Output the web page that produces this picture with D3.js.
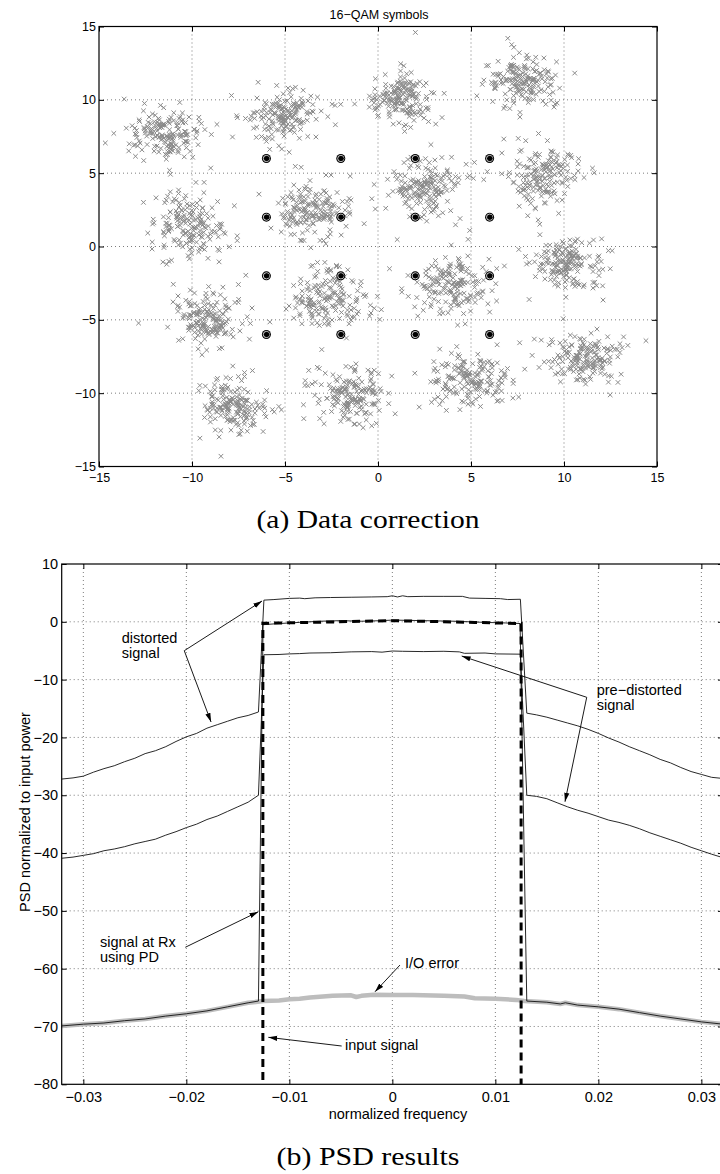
<!DOCTYPE html>
<html>
<head>
<meta charset="utf-8">
<script src="https://cdn.jsdelivr.net/npm/d3@7"></script>
<style>
  html, body { margin: 0; padding: 0; background: #fff; }
  svg { display: block; }
  text { font-family: "Liberation Sans", Arial, Helvetica, sans-serif; fill: #000; }
</style>
</head>
<body>
<svg id="chart" width="720" height="1174"></svg>
<script>
// -----------------------------
// Data: 16-QAM scatter (top)
// -----------------------------
const QAM_TICKS = [-15, -10, -5, 0, 5, 10, 15];
const IDEAL_LEVELS = [-6, -2, 2, 6];

// centres of the received (distorted) clouds
const CLUSTER_CX = [-11.5, -5.0, 1.2, 7.8, -10.1, -3.6, 2.4, 8.8, -9.2, -2.7, 3.9, 10.2, -7.8, -1.4, 5.0, 11.2];
const CLUSTER_CY = [7.6, 9.1, 10.2, 11.4, 1.4, 2.5, 4.0, 5.0, -4.8, -3.6, -2.6, -1.2, -11.0, -10.0, -9.0, -7.7];
const CLUSTER_SX = [0.95, 0.95, 0.85, 0.9, 0.9, 1.0, 0.95, 0.9, 0.9, 1.05, 1.0, 0.95, 0.9, 1.0, 1.0, 0.95];
const CLUSTER_SY = [0.9, 0.85, 0.9, 0.95, 1.0, 0.95, 0.95, 0.95, 0.9, 1.0, 0.9, 0.85, 0.95, 1.0, 0.9, 0.8];
const POINTS_PER_CLUSTER = 175;

// -----------------------------
// Data: PSD curves (bottom), [normalized frequency, dB]
// -----------------------------
const PSD_X_TICKS = [-0.03, -0.02, -0.01, 0, 0.01, 0.02, 0.03];
const PSD_Y_TICKS = [10, 0, -10, -20, -30, -40, -50, -60, -70, -80];

const DISTORTED = [
  [-0.0321, -27.2], [-0.031, -27.0], [-0.03, -26.7], [-0.029, -26.0], [-0.028, -25.4],
  [-0.027, -24.9], [-0.026, -24.2], [-0.025, -23.6], [-0.024, -22.8], [-0.023, -22.3],
  [-0.022, -21.6], [-0.021, -20.7], [-0.02, -19.9], [-0.019, -19.3], [-0.018, -18.4],
  [-0.017, -17.8], [-0.016, -17.2], [-0.015, -16.6], [-0.014, -16.2], [-0.013, -15.6],
  [-0.01247, 3.75], [-0.0115, 3.85], [-0.01, 4.05], [-0.009, 4.1], [-0.0085, 4.0],
  [-0.0075, 4.15], [-0.006, 4.2], [-0.004, 4.25], [-0.002, 4.3], [-0.0005, 4.35],
  [0.0, 4.5], [0.0005, 4.3], [0.001, 4.5], [0.0015, 4.35], [0.003, 4.4], [0.005, 4.4],
  [0.0068, 4.4], [0.0075, 4.1], [0.009, 4.05], [0.0105, 4.0], [0.0112, 3.85], [0.01243, 3.9],
  [0.01305, -15.8], [0.014, -16.1], [0.015, -16.5], [0.016, -17.0], [0.017, -17.5],
  [0.018, -18.0], [0.019, -18.6], [0.02, -19.3], [0.021, -20.1], [0.022, -20.8],
  [0.023, -21.6], [0.024, -22.3], [0.025, -23.0], [0.026, -23.8], [0.027, -24.4],
  [0.028, -25.2], [0.029, -25.9], [0.03, -26.4], [0.031, -26.9], [0.0321, -27.1],
];

const PRE_DISTORTED = [
  [-0.0321, -40.9], [-0.031, -40.7], [-0.03, -40.4], [-0.029, -40.1], [-0.028, -39.6],
  [-0.027, -39.3], [-0.026, -38.9], [-0.025, -38.4], [-0.024, -38.0], [-0.023, -37.6],
  [-0.022, -36.9], [-0.021, -36.3], [-0.02, -35.6], [-0.019, -35.0], [-0.018, -34.2],
  [-0.017, -33.6], [-0.016, -32.8], [-0.015, -32.0], [-0.014, -31.2], [-0.013, -30.0],
  [-0.01247, -5.7], [-0.011, -5.65], [-0.01, -5.55], [-0.009, -5.5], [-0.008, -5.4],
  [-0.006, -5.35], [-0.004, -5.2], [-0.002, -5.15], [-0.001, -5.25], [0.0, -5.05],
  [0.001, -5.1], [0.003, -5.15], [0.005, -5.1], [0.0065, -5.2], [0.007, -5.45],
  [0.009, -5.4], [0.01, -5.55], [0.01243, -5.6],
  [0.01305, -30.0], [0.014, -30.2], [0.015, -30.6], [0.016, -31.3], [0.017, -32.0],
  [0.018, -32.6], [0.019, -33.1], [0.02, -33.7], [0.021, -34.3], [0.022, -34.7],
  [0.023, -35.2], [0.024, -35.8], [0.025, -36.5], [0.026, -37.1], [0.027, -37.7],
  [0.028, -38.3], [0.029, -39.0], [0.03, -39.6], [0.031, -40.2], [0.0321, -40.8],
];

const RX_WITH_PD = [
  [-0.0321, -69.9], [-0.03, -69.6], [-0.028, -69.4], [-0.026, -69.0], [-0.024, -68.7],
  [-0.022, -68.2], [-0.02, -67.8], [-0.018, -67.3], [-0.016, -66.6], [-0.014, -65.9],
  [-0.013, -65.6],
  [-0.01255, -0.5], [-0.011, -0.3], [-0.009, -0.1], [-0.007, 0.1], [-0.005, 0.2],
  [-0.003, 0.1], [-0.001, 0.2], [0.0, 0.3], [0.003, 0.2], [0.006, 0.1], [0.009, -0.1],
  [0.011, -0.2], [0.0124, -0.3],
  [0.01305, -65.6], [0.015, -65.8], [0.0163, -66.1], [0.0168, -65.9], [0.018, -66.3],
  [0.02, -66.6], [0.022, -67.0], [0.024, -67.6], [0.026, -68.2], [0.028, -68.7],
  [0.03, -69.2], [0.0321, -69.6],
];

const IO_ERROR = [
  [-0.0321, -69.9], [-0.03, -69.6], [-0.028, -69.4], [-0.026, -69.0], [-0.024, -68.7],
  [-0.022, -68.2], [-0.02, -67.8], [-0.018, -67.3], [-0.016, -66.6], [-0.014, -65.9],
  [-0.0125, -65.6], [-0.011, -65.5], [-0.01, -65.3], [-0.009, -65.2], [-0.008, -65.0],
  [-0.0058, -64.7], [-0.004, -64.6], [-0.0035, -64.9], [-0.003, -64.7], [-0.0018, -64.5],
  [0.0, -64.55], [0.002, -64.55], [0.005, -64.7], [0.007, -64.8], [0.008, -65.1],
  [0.01, -65.2], [0.012, -65.4], [0.0128, -65.6],
  [0.015, -65.8], [0.0163, -66.1], [0.0168, -65.9], [0.018, -66.3], [0.02, -66.6],
  [0.022, -67.0], [0.024, -67.6], [0.026, -68.2], [0.028, -68.7], [0.03, -69.2],
  [0.0321, -69.6],
];

const INPUT_SIGNAL = [
  [-0.01257, -95], [-0.01257, -0.25], [-0.008, -0.1], [-0.004, 0.05], [0.0, 0.2],
  [0.004, 0.05], [0.008, -0.1], [0.0125, -0.3], [0.0125, -95],
];

// annotation labels: text lines at [f, dB], arrow tail and heads at [f, dB]
const ANNOTATIONS = [
  { lines: ["distorted", "signal"], at: [-0.02627, -3.67], tail: [-0.0202, -5.0], heads: [[-0.01265, 3.6], [-0.0176, -17.33]] },
  { lines: ["pre\u2212distorted", "signal"], at: [0.01984, -12.66], tail: [0.01887, -13.06], heads: [[0.00673, -5.92], [0.01676, -31.12]] },
  { lines: ["signal at Rx", "using PD"], at: [-0.02838, -56.2], tail: [-0.0201, -56.3], heads: [[-0.01301, -50.15]] },
  { lines: ["input signal"], at: [-0.0046, -74.07], tail: [-0.00492, -73.38], heads: [[-0.01204, -71.87]] },
  { lines: ["I/O error"], at: [0.00123, -59.89], tail: [0.00074, -59.37], heads: [[-0.00168, -63.99]] },
];

// -----------------------------
// SVG + scales
// -----------------------------
const svg = d3.select("#chart");
svg.append("rect").attr("width", 720).attr("height", 1174).attr("fill", "#fff");

const qamX = d3.scaleLinear().domain([-15, 15]).range([99, 657]);
const qamY = d3.scaleLinear().domain([-15, 15]).range([466.5, 26.5]);

const psdX = d3.scaleLinear().domain([-0.0321, 0.0321]).range([61.7, 723]);
const psdY = d3.scaleLinear().domain([-80, 10]).range([1084.3, 564]);

const minus = (d) => (d < 0 ? "\u2212" : "") + Math.abs(d);

// -----------------------------
// Axes helper (MATLAB style box, inward ticks, dotted grid)
// -----------------------------
function drawAxes(g, x, y, xTicks, yTicks, fontSize, xPad, yPad) {
  const [xl, xr] = x.range();
  const [yb, yt] = y.range();

  const grid = g.append("g").attr("class", "grid");
  grid.selectAll("line.gx")
    .data(xTicks.filter((d) => x(d) > xl + 1 && x(d) < xr - 1))
    .join("line")
    .attr("class", "gx")
    .attr("x1", (d) => x(d)).attr("x2", (d) => x(d))
    .attr("y1", yt).attr("y2", yb);
  grid.selectAll("line.gy")
    .data(yTicks.filter((d) => y(d) < yb - 1 && y(d) > yt + 1))
    .join("line")
    .attr("class", "gy")
    .attr("x1", xl).attr("x2", xr)
    .attr("y1", (d) => y(d)).attr("y2", (d) => y(d));
  grid.selectAll("line")
    .attr("stroke", "#444")
    .attr("stroke-width", 0.7)
    .attr("stroke-dasharray", "1,3");

  const styleAxis = (a) => {
    a.select(".domain").remove();
    a.selectAll("line").attr("stroke", "#000").attr("stroke-width", 1);
    a.selectAll("text")
      .style("font-size", fontSize + "px")
      .style("font-family", '"Liberation Sans", Arial, sans-serif')
      .attr("fill", "#000");
  };

  g.append("g").attr("transform", `translate(0,${yb})`)
    .call(d3.axisBottom(x).tickValues(xTicks).tickSize(-5).tickPadding(xPad).tickFormat(minus))
    .call(styleAxis);
  g.append("g").attr("transform", `translate(0,${yt})`)
    .call(d3.axisTop(x).tickValues(xTicks).tickSize(-5).tickFormat(""))
    .call(styleAxis);
  g.append("g").attr("transform", `translate(${xl},0)`)
    .call(d3.axisLeft(y).tickValues(yTicks).tickSize(-5).tickPadding(yPad).tickFormat(minus))
    .call(styleAxis);
  g.append("g").attr("transform", `translate(${xr},0)`)
    .call(d3.axisRight(y).tickValues(yTicks).tickSize(-5).tickFormat(""))
    .call(styleAxis);
}

function drawFrame(g, x, y) {
  const [xl, xr] = x.range();
  const [yb, yt] = y.range();
  g.append("rect")
    .attr("x", xl).attr("y", yt)
    .attr("width", xr - xl).attr("height", yb - yt)
    .attr("fill", "none")
    .attr("stroke", "#000")
    .attr("stroke-width", 1.2);
}

// -----------------------------
// Top: 16-QAM symbols
// -----------------------------
const qamG = svg.append("g");
drawAxes(qamG, qamX, qamY, QAM_TICKS, QAM_TICKS, 12.5, 6.5, 3);

qamG.append("text")
  .attr("x", 379).attr("y", 19)
  .attr("text-anchor", "middle")
  .style("font-size", "12.5px")
  .text("16\u2212QAM symbols");

// received symbols: noise clouds around each centre. The individual points
// cannot be read, so a fixed-seed generator spreads them (same picture every run).
const lcg = d3.randomLcg(0.2718);
const normal = d3.randomNormal.source(lcg)(0, 1);
const received = [];
CLUSTER_CX.forEach((cx, i) => {
  for (let k = 0; k < POINTS_PER_CLUSTER; k++) {
    const wide = lcg() < 0.1 ? 1.55 : 1;
    received.push([
      cx + normal() * CLUSTER_SX[i] * wide,
      CLUSTER_CY[i] + normal() * CLUSTER_SY[i] * wide,
    ]);
  }
});

qamG.append("g")
  .selectAll("path")
  .data(received.filter((d) => Math.abs(d[0]) < 14.8 && Math.abs(d[1]) < 14.8))
  .join("path")
  .attr("transform", (d) => `translate(${qamX(d[0])},${qamY(d[1])})`)
  .attr("d", "M-2.3,-2.3L2.3,2.3M-2.3,2.3L2.3,-2.3")
  .attr("stroke", "#8a8a8a")
  .attr("stroke-width", 1)
  .attr("fill", "none");

const ideal = d3.cross(IDEAL_LEVELS, IDEAL_LEVELS);
const idealG = qamG.append("g")
  .selectAll("g")
  .data(ideal)
  .join("g")
  .attr("transform", (d) => `translate(${qamX(d[0])},${qamY(d[1])})`);
idealG.append("circle").attr("r", 4.5).attr("fill", "#000");
idealG.append("circle").attr("r", 3.1).attr("fill", "none").attr("stroke", "#fff").attr("stroke-width", 0.8);
idealG.append("circle").attr("cx", 0.7).attr("r", 2.3).attr("fill", "#000");

drawFrame(qamG, qamX, qamY);

svg.append("text")
  .attr("x", 368).attr("y", 528)
  .attr("text-anchor", "middle")
  .attr("textLength", 223)
  .attr("lengthAdjust", "spacingAndGlyphs")
  .style("font-family", '"Liberation Serif", "DejaVu Serif", serif')
  .style("font-size", "25px")
  .text("(a) Data correction");

// -----------------------------
// Bottom: PSD results
// -----------------------------
const psdG = svg.append("g");
drawAxes(psdG, psdX, psdY, PSD_X_TICKS, PSD_Y_TICKS, 14.5, 7.5, 3.5);

svg.append("defs")
  .call((defs) => defs.append("clipPath").attr("id", "psdClip")
    .append("rect")
    .attr("x", psdX.range()[0]).attr("y", psdY.range()[1])
    .attr("width", psdX.range()[1] - psdX.range()[0])
    .attr("height", psdY.range()[0] - psdY.range()[1]))
  .call((defs) => defs.append("marker")
    .attr("id", "arrowHead")
    .attr("viewBox", "0 -3 9 6")
    .attr("refX", 9).attr("refY", 0)
    .attr("markerWidth", 9).attr("markerHeight", 6)
    .attr("markerUnits", "userSpaceOnUse")
    .attr("orient", "auto")
    .append("path")
    .attr("d", "M0,-2.6L9,0L0,2.6Z")
    .attr("fill", "#000"));

const line = d3.line().x((d) => psdX(d[0])).y((d) => psdY(d[1]));
const curves = psdG.append("g").attr("clip-path", "url(#psdClip)");

curves.append("path").datum(IO_ERROR)
  .attr("d", line).attr("fill", "none")
  .attr("stroke", "#bdbdbd").attr("stroke-width", 4.5)
  .attr("stroke-linejoin", "round");

[DISTORTED, PRE_DISTORTED, RX_WITH_PD].forEach((series) => {
  curves.append("path").datum(series)
    .attr("d", line).attr("fill", "none")
    .attr("stroke", "#111").attr("stroke-width", 0.9)
    .attr("stroke-linejoin", "round");
});

curves.append("path").datum(INPUT_SIGNAL)
  .attr("d", line).attr("fill", "none")
  .attr("stroke", "#000").attr("stroke-width", 3)
  .attr("stroke-dasharray", "8,5");

drawFrame(psdG, psdX, psdY);

// annotations
const notes = psdG.append("g");
ANNOTATIONS.forEach((a) => {
  a.heads.forEach((h) => {
    notes.append("line")
      .attr("x1", psdX(a.tail[0])).attr("y1", psdY(a.tail[1]))
      .attr("x2", psdX(h[0])).attr("y2", psdY(h[1]))
      .attr("stroke", "#000").attr("stroke-width", 0.9)
      .attr("marker-end", "url(#arrowHead)");
  });
  notes.append("text")
    .attr("x", psdX(a.at[0])).attr("y", psdY(a.at[1]))
    .style("font-size", "14.5px")
    .selectAll("tspan")
    .data(a.lines)
    .join("tspan")
    .attr("x", psdX(a.at[0]))
    .attr("dy", (d, i) => (i === 0 ? 0 : 15.3))
    .text((d) => d);
});

psdG.append("text")
  .attr("x", 398).attr("y", 1119)
  .attr("text-anchor", "middle")
  .style("font-size", "14.5px")
  .text("normalized frequency");

psdG.append("text")
  .attr("transform", "translate(30,812) rotate(-90)")
  .attr("text-anchor", "middle")
  .style("font-size", "14.5px")
  .text("PSD normalized to input power");

svg.append("text")
  .attr("x", 368).attr("y", 1165)
  .attr("text-anchor", "middle")
  .attr("textLength", 183)
  .attr("lengthAdjust", "spacingAndGlyphs")
  .style("font-family", '"Liberation Serif", "DejaVu Serif", serif')
  .style("font-size", "25px")
  .text("(b) PSD results");
</script>
</body>
</html>
